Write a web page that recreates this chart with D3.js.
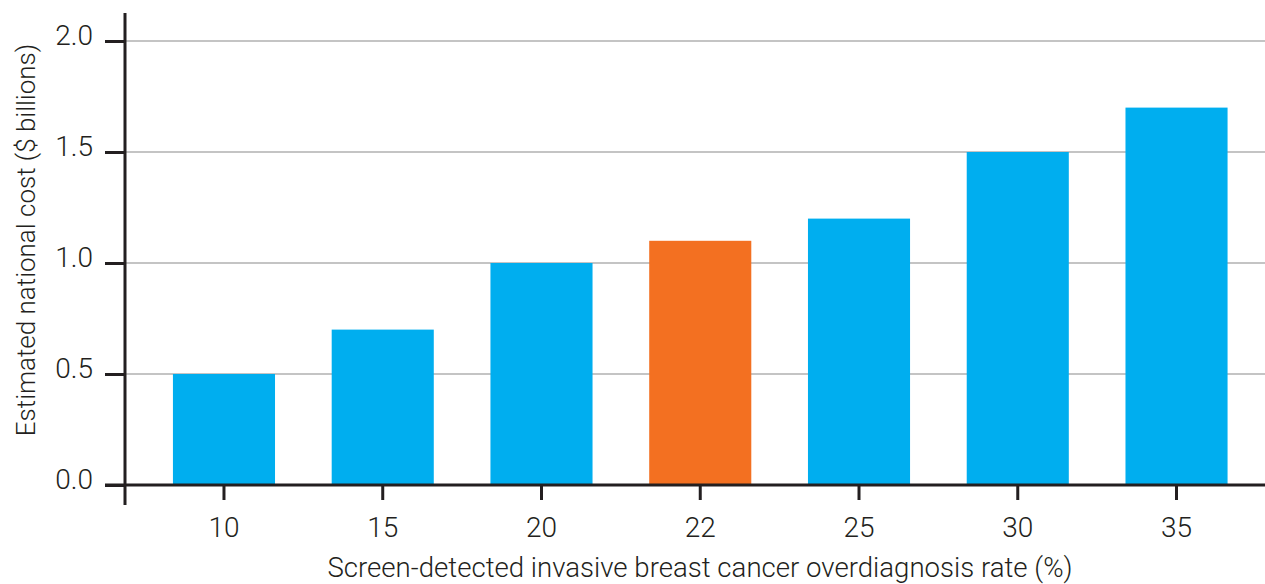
<!DOCTYPE html>
<html><head><meta charset="utf-8">
<script src="https://cdn.jsdelivr.net/npm/d3@7"></script>
<style>
html,body{margin:0;padding:0;background:#fff;}
svg text{font-family:"Roboto","Liberation Sans",sans-serif;font-weight:300;fill:#231f20;}
</style></head>
<body>
<svg id="chart" width="1265" height="584"></svg>
<script>
const categories = ["10","15","20","22","25","30","35"];
const values = [0.5, 0.7, 1.0, 1.1, 1.2, 1.5, 1.7];
const highlight = ["22"];
const yTicks = [0, 0.5, 1.0, 1.5, 2.0];
const xTitle = "Screen-detected invasive breast cancer overdiagnosis rate (%)";
const yTitle = "Estimated national cost ($ billions)";

const svg = d3.select("#chart");
const axisX = 125, baseY = 485;
const y = d3.scaleLinear().domain([0, 2]).range([baseY, 41]);
const x = d3.scaleBand().domain(categories).range([144.6, 1255.9]).paddingInner(0.357).paddingOuter(0.1785);

// gridlines
svg.append("g").selectAll("line").data(yTicks.filter(d => d > 0)).join("line")
  .attr("x1", axisX).attr("x2", 1265)
  .attr("y1", d => y(d)).attr("y2", d => y(d))
  .attr("stroke", "#c4c4c4").attr("stroke-width", 2);

// bars
svg.append("g").selectAll("rect").data(categories).join("rect")
  .attr("x", d => x(d)).attr("width", x.bandwidth())
  .attr("y", (d, i) => y(values[i])).attr("height", (d, i) => baseY - y(values[i]))
  .attr("fill", d => highlight.includes(d) ? "#f37021" : "#00aeef");

// y axis
const yAxis = svg.append("g").attr("transform", `translate(${axisX},0)`)
  .call(d3.axisLeft(y).tickValues(yTicks).tickFormat(d3.format(".1f")).tickSize(20).tickPadding(12));
yAxis.select(".domain").remove();
yAxis.selectAll(".tick line").attr("stroke", "#231f20").attr("stroke-width", 3);
yAxis.selectAll(".tick text").attr("font-size", 28).attr("dy", "0.14em").style("font-family", "Roboto").style("font-weight", 300).attr("fill", "#231f20");
yAxis.append("line").attr("x1", 0).attr("x2", 0).attr("y1", 13).attr("y2", 505)
  .attr("stroke", "#231f20").attr("stroke-width", 3);

// x axis
const xAxis = svg.append("g").attr("transform", `translate(0,${baseY})`)
  .call(d3.axisBottom(x).tickSize(15).tickPadding(17));
xAxis.select(".domain").remove();
xAxis.selectAll(".tick line").attr("stroke", "#231f20").attr("stroke-width", 3);
xAxis.selectAll(".tick text").attr("font-size", 28).style("font-family", "Roboto").style("font-weight", 300).attr("fill", "#231f20");
xAxis.append("line").attr("x1", 105).attr("x2", 1265).attr("y1", 0).attr("y2", 0)
  .attr("stroke", "#231f20").attr("stroke-width", 3);

// titles
svg.append("text").attr("x", 700).attr("y", 577).attr("text-anchor", "middle")
  .attr("font-size", 27.6).text(xTitle);
svg.append("text").attr("transform", "translate(35,240) rotate(-90)").attr("text-anchor", "middle")
  .attr("font-size", 26).text(yTitle);
</script>
</body></html>
